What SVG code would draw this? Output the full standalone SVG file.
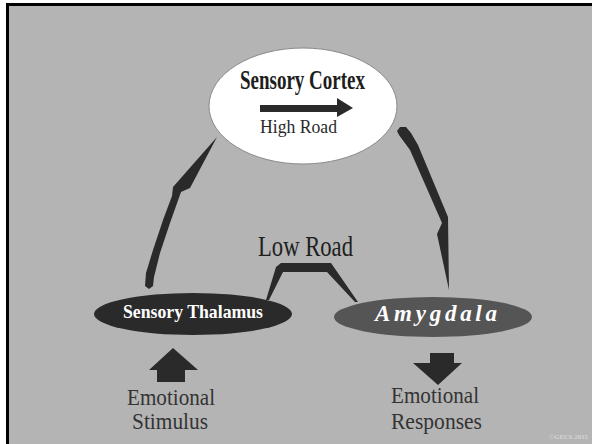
<svg xmlns="http://www.w3.org/2000/svg" width="592" height="444" viewBox="0 0 592 444" font-family="'Liberation Serif', 'Times New Roman', serif">
  <style>
    .serif { font-family: "Liberation Serif", "Times New Roman", serif; }
    .dark { fill: #2a2a2a; }
    .label { font-size: 24px; fill: #333333; }
  </style>

  <!-- page and framed panel -->
  <rect x="0" y="0" width="592" height="444" fill="#ffffff"/>
  <rect x="7.5" y="4.5" width="600" height="460" fill="#b4b4b4" stroke="#000000" stroke-width="3"/>

  <!-- connectors -->
  <g id="connectors" class="dark">
    <!-- thalamus up to cortex -->
    <polygon points="217,137 190,188 181,192 170,223 160,253 154,277 153,286 149,289 145,286 146,273 153,250 163,220 172,196 173,187"/>
    <!-- cortex down to amygdala -->
    <polygon points="397,131 400,127 406,127 411,133 418,145 448,217 449,290 437,234 442,223 410,150 399,135"/>
    <!-- low road bracket between thalamus and amygdala -->
    <polygon points="266,300 276,267 281,263 331,263 358,302 355,302 327,272 283,272 269,300"/>
    <!-- stimulus arrow up -->
    <polygon points="157,382 185,382 185,370 198,370 173,348 149,370 157,370"/>
    <!-- response arrow down -->
    <polygon points="430,353 454,353 454,363 462,363 438,385 413,363 430,363"/>
  </g>

  <g id="sensory-cortex">
    <ellipse cx="303" cy="106" rx="94" ry="58" fill="#ffffff" stroke="#8a8a8a" stroke-width="1"/>
    <text class="serif" x="240" y="89" font-size="28" font-weight="bold" fill="#1e1e1e" textLength="125" lengthAdjust="spacingAndGlyphs">Sensory Cortex</text>
    <!-- high road arrow -->
    <polygon class="dark" points="260,105 337,105 337,98 353,108 337,117 337,112 260,112"/>
    <text class="serif" x="260" y="133" font-size="18" fill="#2a2a2a" textLength="77" lengthAdjust="spacingAndGlyphs">High Road</text>
  </g>

  <g id="low-road-label">
    <text class="serif" x="258" y="256" font-size="30" fill="#1e1e1e" textLength="95" lengthAdjust="spacingAndGlyphs">Low Road</text>
  </g>

  <g id="sensory-thalamus">
    <ellipse cx="193" cy="314" rx="99" ry="21" fill="#2a2a2a"/>
    <text class="serif" x="123" y="318" font-size="19" font-weight="bold" fill="#ffffff" textLength="140" lengthAdjust="spacingAndGlyphs">Sensory Thalamus</text>
  </g>

  <g id="amygdala">
    <ellipse cx="433" cy="317" rx="99" ry="20" fill="#555555"/>
    <text class="serif" x="375" y="321" font-size="23" font-weight="bold" font-style="italic" fill="#ffffff" textLength="122" lengthAdjust="spacing">Amygdala</text>
  </g>

  <g id="emotional-stimulus">
    <text class="serif label" x="127" y="405" textLength="88" lengthAdjust="spacingAndGlyphs">Emotional</text>
    <text class="serif label" x="132" y="429" textLength="76" lengthAdjust="spacingAndGlyphs">Stimulus</text>
  </g>

  <g id="emotional-responses">
    <text class="serif label" x="391" y="403" textLength="88" lengthAdjust="spacingAndGlyphs">Emotional</text>
    <text class="serif label" x="391" y="429" textLength="91" lengthAdjust="spacingAndGlyphs">Responses</text>
  </g>

  <text class="serif" x="549" y="439" font-size="6" font-weight="bold" fill="#d4d4d4" textLength="39" lengthAdjust="spacingAndGlyphs">©GECS 2015</text>
</svg>
